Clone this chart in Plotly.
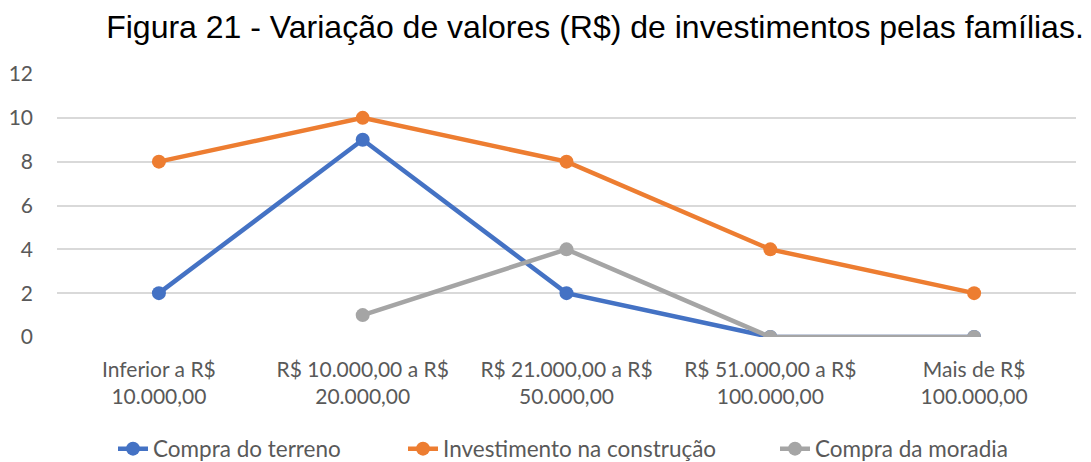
import plotly.graph_objects as go

categories = ["Inferior a R$<br>10.000,00", "R$ 10.000,00 a R$<br>20.000,00",
              "R$ 21.000,00 a R$<br>50.000,00", "R$ 51.000,00 a R$<br>100.000,00",
              "Mais de R$<br>100.000,00"]
terreno = [2, 9, 2, 0, 0]
construcao = [8, 10, 8, 4, 2]
moradia = [None, 1, 4, 0, 0]
y_ticks = [0, 2, 4, 6, 8, 10, 12]

x = list(range(len(categories)))
fig = go.Figure()
series = [("Compra do terreno", terreno, "#4472C4", "legend", 153),
          ("Investimento na construção", construcao, "#ED7D31", "legend2", 443),
          ("Compra da moradia", moradia, "#A5A5A5", "legend3", 815)]
legend_text_x = {}
for name, vals, col, lg, tx in series:
    fig.add_trace(go.Scatter(x=x, y=vals, name=name, mode="lines+markers",
                             line=dict(color=col, width=4.5),
                             marker=dict(color=col, size=14), legend=lg,
                             showlegend=True))
    legend_text_x[lg] = tx

W, H = 1083, 454
layout_legends = {}
for lg, tx in legend_text_x.items():
    layout_legends[lg] = dict(xref="container", yref="container",
                              x=(tx - 8 - 40) / W, xanchor="left",
                              y=0.0286, yanchor="middle",
                              font=dict(size=22.5, color="#595959"),
                              bgcolor="rgba(0,0,0,0)")

fig.update_layout(
    width=W, height=H, showlegend=True,
    margin=dict(l=49, r=15, t=66, b=125, autoexpand=False),
    paper_bgcolor="white", plot_bgcolor="white",
    font=dict(family="Lato", color="#595959", size=21),
    title=dict(text="Figura 21 - Variação de valores (R$) de investimentos pelas famílias.",
               font=dict(family="Liberation Sans", size=32, color="#000000"),
               x=0.542, xanchor="center", y=0.958, yanchor="middle"),
    xaxis=dict(range=[-0.5, 4.5], tickmode="array", tickvals=x, ticktext=categories,
               showgrid=False, zeroline=False, showline=False, ticks="",
               ticklabelstandoff=18, automargin=False),
    yaxis=dict(range=[0, 12], tickvals=y_ticks, showgrid=True, gridcolor="#D9D9D9",
               gridwidth=1.5, zeroline=False, showline=False, ticks="",
               ticklabelstandoff=23, automargin=False),
    **layout_legends,
)
fig.write_html("out.html")
